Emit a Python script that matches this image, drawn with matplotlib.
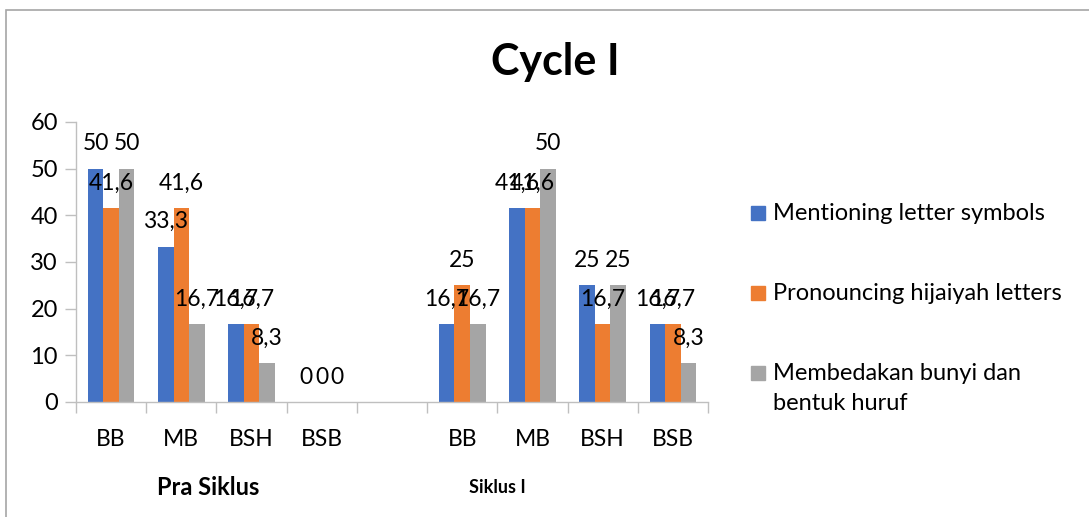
import numpy as np
import matplotlib
matplotlib.use("Agg")
import matplotlib.pyplot as plt
from matplotlib.patches import Rectangle

# Data (blank slot between the two phases)
categories = ["BB", "MB", "BSH", "BSB", "", "BB", "MB", "BSH", "BSB"]
mentioning = [50, 33.3, 16.7, 0, np.nan, 16.7, 41.6, 25, 16.7]
pronouncing = [41.6, 41.6, 16.7, 0, np.nan, 25, 41.6, 16.7, 16.7]
membedakan = [50, 16.7, 8.3, 0, np.nan, 16.7, 50, 25, 8.3]
series_names = [
    "Mentioning letter symbols",
    "Pronouncing hijaiyah letters",
    "Membedakan bunyi dan\nbentuk huruf",
]
colors = ["#4472C4", "#ED7D31", "#A5A5A5"]

W, H = 1089, 517
plt.rcParams["font.family"] = ["Lato", "DejaVu Sans"]

fig = plt.figure(figsize=(W / 100, H / 100), dpi=100)
ax = fig.add_axes([76 / W, 1 - 402 / H, 632 / W, 280 / H])

x = np.arange(len(categories))
width = 0.222
for i, (vals, color) in enumerate(zip([mentioning, pronouncing, membedakan], colors)):
    pos = x + (i - 1) * width
    ax.bar(pos, vals, width=width, color=color, zorder=2)
    for xp, v in zip(pos, vals):
        if np.isnan(v):
            continue
        label = f"{v:g}".replace(".", ",")
        ax.annotate(label, xy=(xp, v), xytext=(0, 18), textcoords="offset points",
                    ha="center", va="center", fontsize=16.5, color="black", zorder=3)

ax.set_xlim(-0.5, len(categories) - 0.5)
ax.set_ylim(0, 60)
ax.set_yticks(range(0, 61, 10))
ax.tick_params(axis="y", labelsize=17, length=8, width=1, color="#BFBFBF", pad=5)
ax.set_xticks(np.arange(-0.5, len(categories)))
ax.set_xticklabels([])
ax.tick_params(axis="x", length=8, width=1, color="#BFBFBF")

for xi, cat in zip(x, categories):
    ax.text(xi, -0.135, cat, transform=ax.get_xaxis_transform(), ha="center",
            va="center", fontsize=16.5)
ax.text(1.38, -0.305, "Pra Siklus", transform=ax.get_xaxis_transform(), ha="center",
        va="center", fontsize=17, fontweight="bold")
ax.text(5.5, -0.305, "Siklus I", transform=ax.get_xaxis_transform(), ha="center",
        va="center", fontsize=13, fontweight="bold")

for s in ["top", "right"]:
    ax.spines[s].set_visible(False)
for s in ["left", "bottom"]:
    ax.spines[s].set_color("#BFBFBF")
    ax.spines[s].set_linewidth(1)

fig.text(555 / W, 1 - 62 / H, "Cycle I", ha="center", va="center",
         fontsize=31, fontweight="bold")

# legend drawn by hand so the grey square sits on the first line of its label
legend_y = [213, 293, 373]
for name, color, ly in zip(series_names, colors, legend_y):
    fig.patches.append(Rectangle((751 / W, 1 - (ly + 7) / H), 14 / W, 14 / H,
                                 transform=fig.transFigure, color=color))
    fig.text(773 / W, 1 - (ly - 10) / H, name, ha="left", va="top", fontsize=17,
             linespacing=1.55)

# chart frame
fig.patches.append(Rectangle((6 / W, -0.1), 1.2, 1.1 - 10 / H, transform=fig.transFigure,
                             fill=False, edgecolor="#A6A6A6", linewidth=1.2))

fig.savefig("out.png", dpi=100)
